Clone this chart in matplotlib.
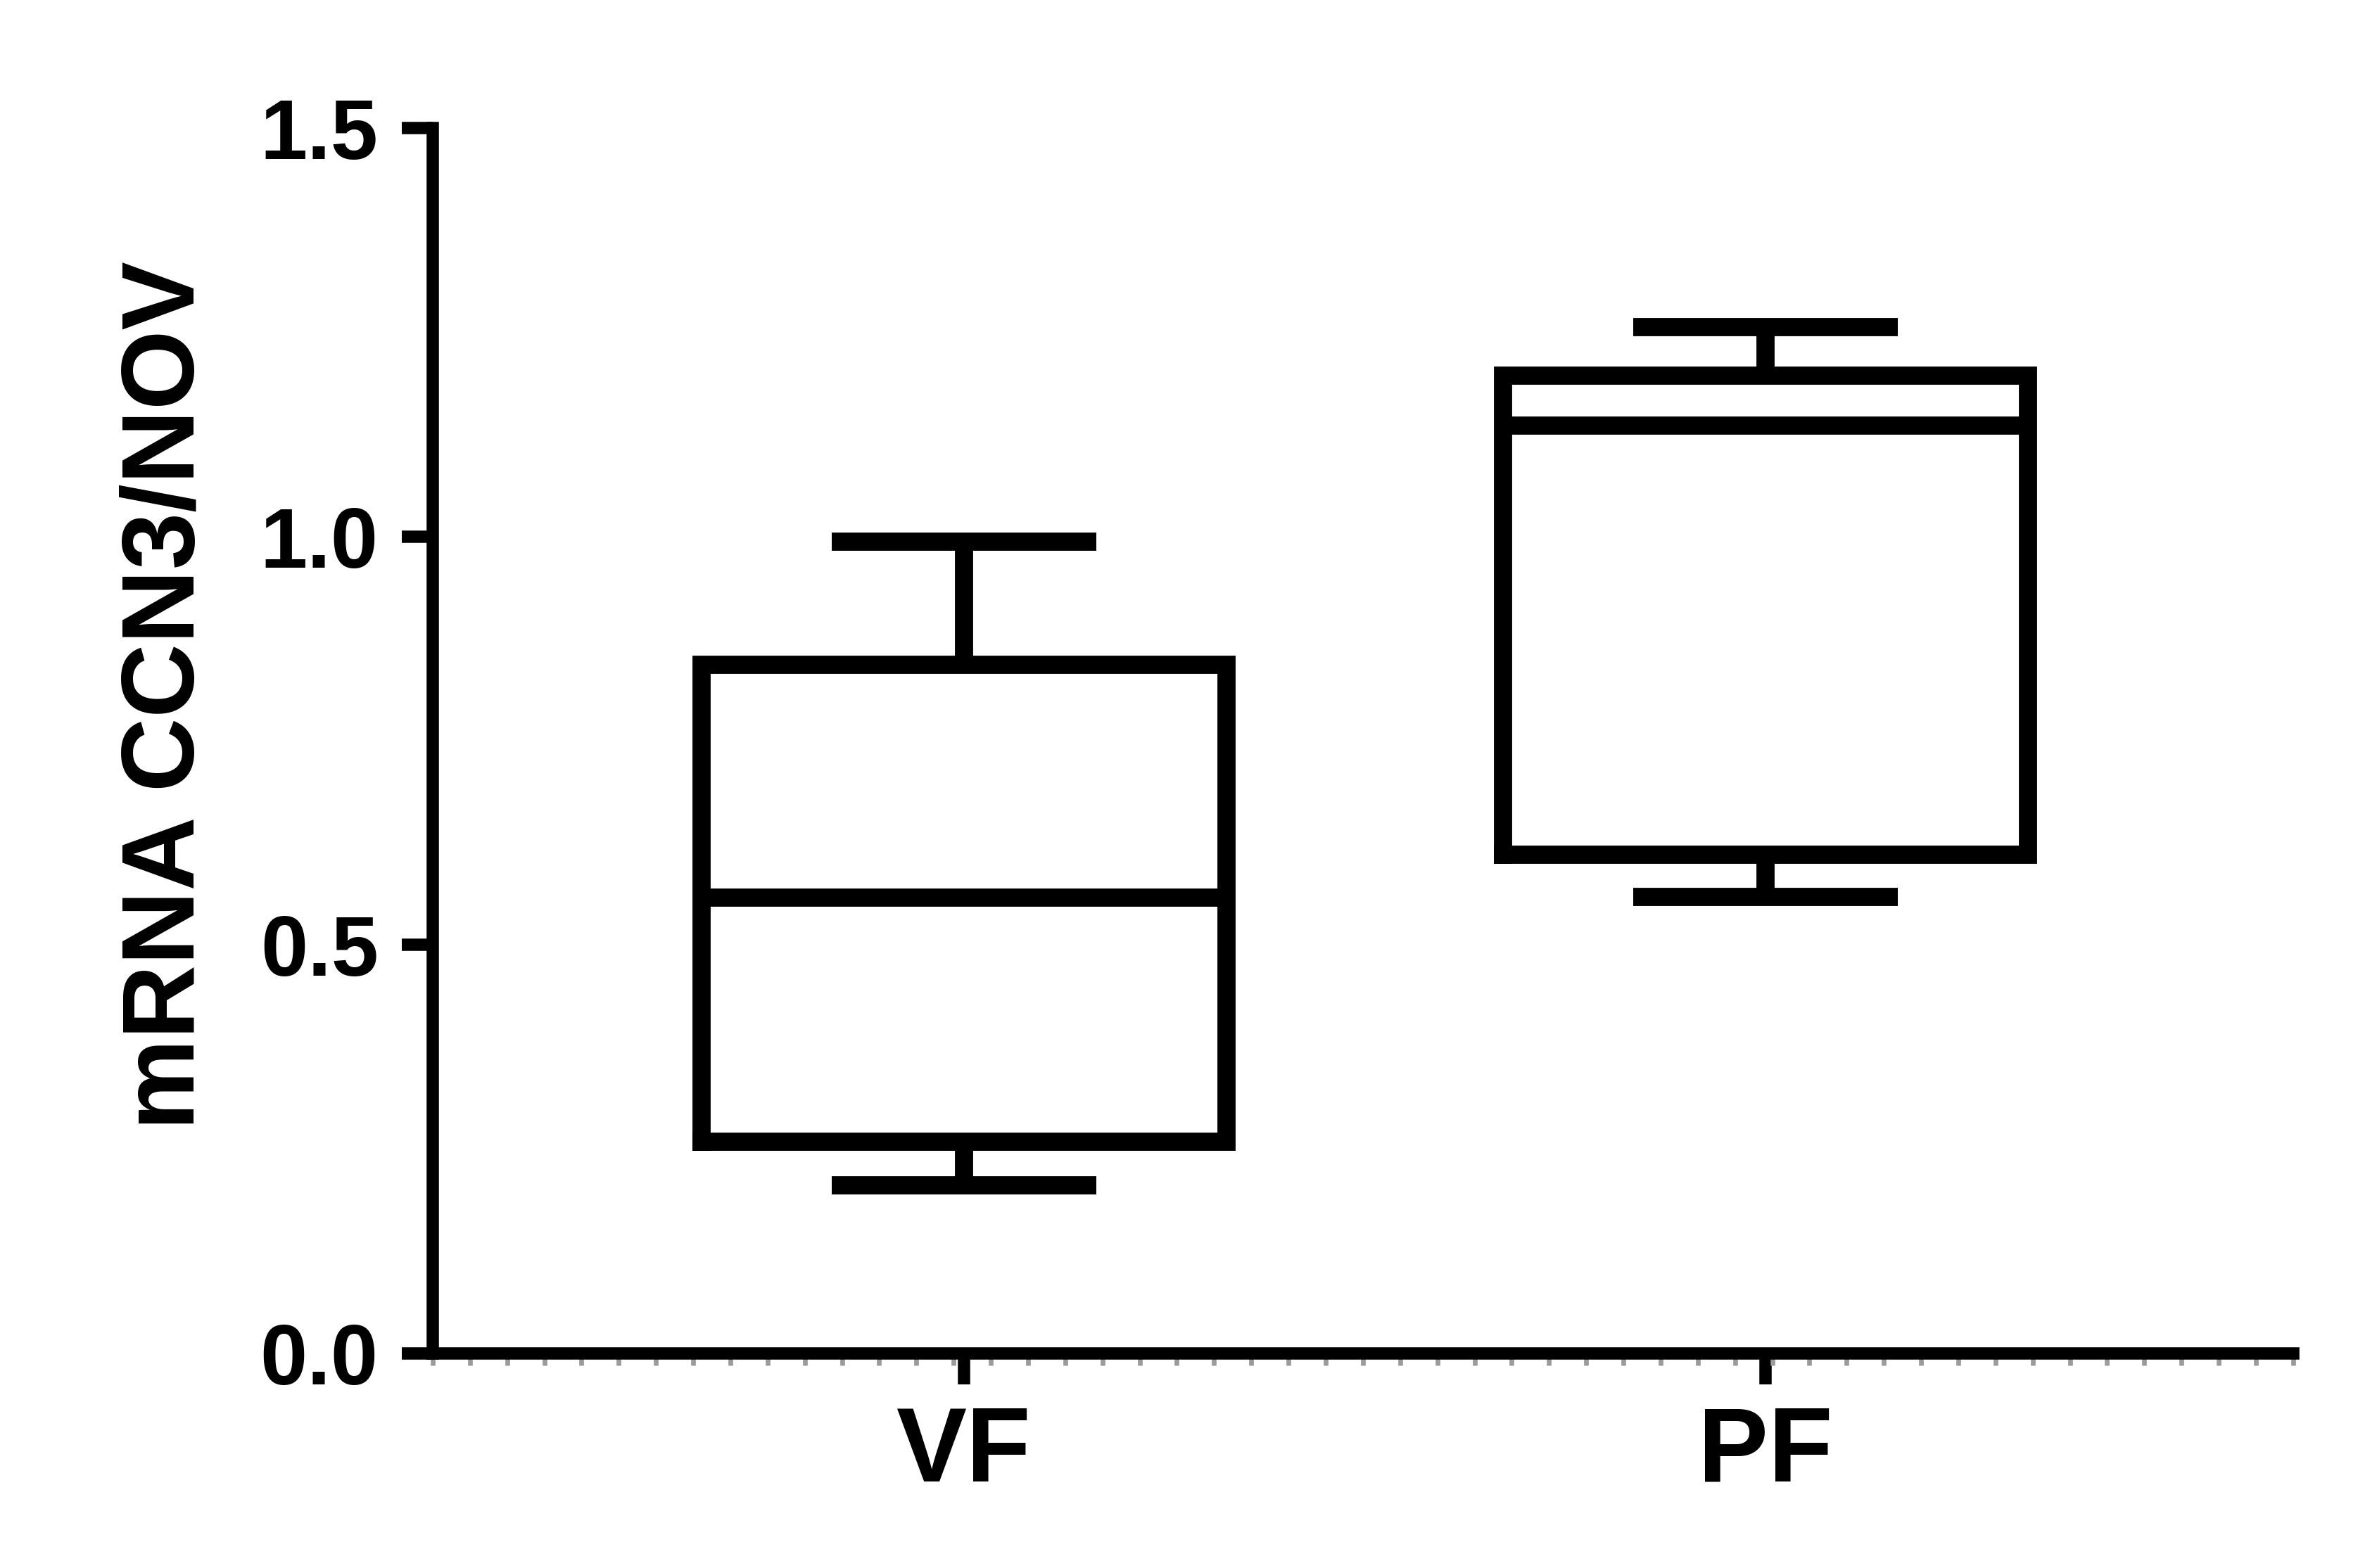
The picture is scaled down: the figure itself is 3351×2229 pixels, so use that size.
import matplotlib
matplotlib.use("Agg")
import matplotlib.pyplot as plt
import numpy as np
from matplotlib.ticker import FixedLocator

plt.rcParams["font.family"] = ["Liberation Sans", "DejaVu Sans"]
plt.rcParams["font.weight"] = "bold"

# ── Data ─────────────────────────────────────────────────────────────────────
groups = ["VF", "PF"]
whislo = [0.206, 0.559]
q1 = [0.259, 0.611]
med = [0.558, 1.136]
q3 = [0.843, 1.197]
whishi = [0.994, 1.256]

y_ticks = [0.0, 0.5, 1.0, 1.5]
y_label = "mRNA CCN3/NOV"

# ── Plot ─────────────────────────────────────────────────────────────────────
W, H, DPI = 3351, 2229, 300
fig = plt.figure(figsize=(W / DPI, H / DPI), dpi=DPI)
ax = fig.add_axes([0.1835, 0.1368, 0.789, 0.7815])

stats = [dict(label=g, whislo=a, q1=b, med=c, q3=d, whishi=e)
         for g, a, b, c, d, e in zip(groups, whislo, q1, med, q3, whishi)]
lw = 6.2
line = dict(color="black", linewidth=lw, solid_capstyle="butt")
ax.bxp(stats, positions=[1, 2], widths=0.655, showfliers=False,
       boxprops=dict(color="black", linewidth=lw, solid_joinstyle="miter"),
       medianprops=line, whiskerprops=line, capprops=line,
       capwidths=0.33)

ax.set_xlim(0.337, 2.658)
ax.set_ylim(0, 1.5)
ax.set_yticks(y_ticks)
ax.set_yticklabels([f"{v:.1f}" for v in y_ticks], fontsize=29, fontweight="bold")
ax.set_xticks([1, 2])
ax.set_xticklabels(groups, fontsize=36, fontweight="bold")

for s in ("top", "right"):
    ax.spines[s].set_visible(False)
for s in ("left", "bottom"):
    ax.spines[s].set_linewidth(4.2)
    ax.spines[s].set_zorder(3)
    ax.spines[s].set_capstyle("projecting")

ax.tick_params(axis="both", which="major", length=10.5, width=4.2,
               color="black", pad=8)
ax.tick_params(axis="x", which="major", pad=7)

# faint grey minor ticks under the x axis
ax.xaxis.set_minor_locator(FixedLocator(np.linspace(0.337, 2.658, 51)))
ax.tick_params(axis="x", which="minor", length=4, width=1.6, color="#9a9a9a")

ax.set_ylabel(y_label, fontsize=35, fontweight="bold")
ax.yaxis.set_label_coords(-0.117, 0.537)

fig.savefig("out.png", dpi=DPI)
